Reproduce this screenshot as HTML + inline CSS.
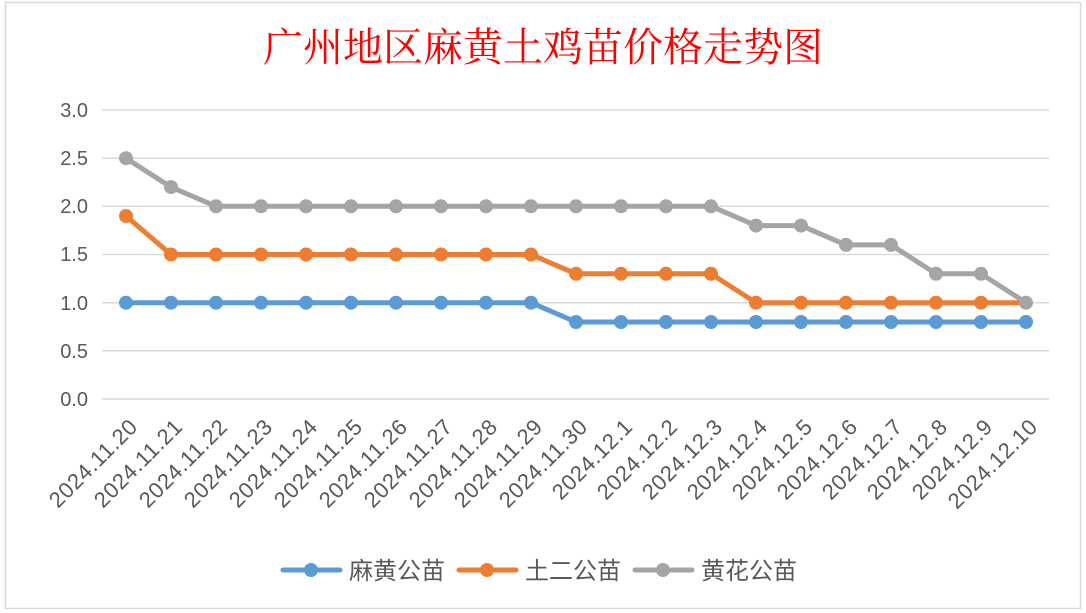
<!DOCTYPE html>
<html><head><meta charset="utf-8"><style>
body{margin:0;background:#fff;}
svg{display:block;}
</style></head><body>
<svg width="1086" height="613" xmlns="http://www.w3.org/2000/svg">
<rect x="0" y="0" width="1086" height="613" fill="#fff"/>
<rect x="5.5" y="2.5" width="1075" height="606" fill="#fff" stroke="#d9d9d9" stroke-width="1.5"/>
<text x="543" y="61" text-anchor="middle" font-family="'Liberation Serif','Noto Serif CJK SC',serif" font-size="40" fill="#ff0000">广州地区麻黄土鸡苗价格走势图</text>
<g stroke="#d9d9d9" stroke-width="1.5">
<line x1="102" x2="1049" y1="110" y2="110"/>
<line x1="102" x2="1049" y1="158.2" y2="158.2"/>
<line x1="102" x2="1049" y1="206.3" y2="206.3"/>
<line x1="102" x2="1049" y1="254.5" y2="254.5"/>
<line x1="102" x2="1049" y1="302.7" y2="302.7"/>
<line x1="102" x2="1049" y1="350.8" y2="350.8"/>
<line x1="102" x2="1049" y1="399" y2="399"/>
</g>
<g font-family="'Liberation Sans',sans-serif" font-size="20" fill="#595959" text-anchor="end">
<text x="88" y="117">3.0</text>
<text x="88" y="165">2.5</text>
<text x="88" y="213">2.0</text>
<text x="88" y="261">1.5</text>
<text x="88" y="310">1.0</text>
<text x="88" y="358">0.5</text>
<text x="88" y="406">0.0</text>
</g>
<g font-family="'Liberation Sans',sans-serif" font-size="22" letter-spacing="0.6" fill="#595959" text-anchor="end">
<text transform="translate(139,428) rotate(-45)">2024.11.20</text>
<text transform="translate(184,428) rotate(-45)">2024.11.21</text>
<text transform="translate(229,428) rotate(-45)">2024.11.22</text>
<text transform="translate(274,428) rotate(-45)">2024.11.23</text>
<text transform="translate(319,428) rotate(-45)">2024.11.24</text>
<text transform="translate(364,428) rotate(-45)">2024.11.25</text>
<text transform="translate(409,428) rotate(-45)">2024.11.26</text>
<text transform="translate(454,428) rotate(-45)">2024.11.27</text>
<text transform="translate(499,428) rotate(-45)">2024.11.28</text>
<text transform="translate(544,428) rotate(-45)">2024.11.29</text>
<text transform="translate(589,428) rotate(-45)">2024.11.30</text>
<text transform="translate(634,428) rotate(-45)">2024.12.1</text>
<text transform="translate(679,428) rotate(-45)">2024.12.2</text>
<text transform="translate(724,428) rotate(-45)">2024.12.3</text>
<text transform="translate(769,428) rotate(-45)">2024.12.4</text>
<text transform="translate(814,428) rotate(-45)">2024.12.5</text>
<text transform="translate(859,428) rotate(-45)">2024.12.6</text>
<text transform="translate(904,428) rotate(-45)">2024.12.7</text>
<text transform="translate(949,428) rotate(-45)">2024.12.8</text>
<text transform="translate(994,428) rotate(-45)">2024.12.9</text>
<text transform="translate(1039,428) rotate(-45)">2024.12.10</text>
</g>
<g fill="none" stroke-width="5" stroke-linejoin="round" stroke-linecap="round">
<polyline stroke="#a5a5a5" points="126,158.2 171,187.1 216,206.3 261,206.3 306,206.3 351,206.3 396,206.3 441,206.3 486,206.3 531,206.3 576,206.3 621,206.3 666,206.3 711,206.3 756,225.6 801,225.6 846,244.9 891,244.9 936,273.8 981,273.8 1026,302.7"/>
<polyline stroke="#ed7d31" points="126,216 171,254.5 216,254.5 261,254.5 306,254.5 351,254.5 396,254.5 441,254.5 486,254.5 531,254.5 576,273.8 621,273.8 666,273.8 711,273.8 756,302.7 801,302.7 846,302.7 891,302.7 936,302.7 981,302.7 1026,302.7"/>
<polyline stroke="#5b9bd5" points="126,302.7 171,302.7 216,302.7 261,302.7 306,302.7 351,302.7 396,302.7 441,302.7 486,302.7 531,302.7 576,322 621,322 666,322 711,322 756,322 801,322 846,322 891,322 936,322 981,322 1026,322"/>
</g>
<g fill="#a5a5a5">
<circle cx="126" cy="158.2" r="7"/><circle cx="171" cy="187.1" r="7"/><circle cx="216" cy="206.3" r="7"/><circle cx="261" cy="206.3" r="7"/><circle cx="306" cy="206.3" r="7"/><circle cx="351" cy="206.3" r="7"/><circle cx="396" cy="206.3" r="7"/><circle cx="441" cy="206.3" r="7"/><circle cx="486" cy="206.3" r="7"/><circle cx="531" cy="206.3" r="7"/><circle cx="576" cy="206.3" r="7"/><circle cx="621" cy="206.3" r="7"/><circle cx="666" cy="206.3" r="7"/><circle cx="711" cy="206.3" r="7"/><circle cx="756" cy="225.6" r="7"/><circle cx="801" cy="225.6" r="7"/><circle cx="846" cy="244.9" r="7"/><circle cx="891" cy="244.9" r="7"/><circle cx="936" cy="273.8" r="7"/><circle cx="981" cy="273.8" r="7"/>
</g>
<g fill="#ed7d31">
<circle cx="126" cy="216" r="7"/><circle cx="171" cy="254.5" r="7"/><circle cx="216" cy="254.5" r="7"/><circle cx="261" cy="254.5" r="7"/><circle cx="306" cy="254.5" r="7"/><circle cx="351" cy="254.5" r="7"/><circle cx="396" cy="254.5" r="7"/><circle cx="441" cy="254.5" r="7"/><circle cx="486" cy="254.5" r="7"/><circle cx="531" cy="254.5" r="7"/><circle cx="576" cy="273.8" r="7"/><circle cx="621" cy="273.8" r="7"/><circle cx="666" cy="273.8" r="7"/><circle cx="711" cy="273.8" r="7"/><circle cx="756" cy="302.7" r="7"/><circle cx="801" cy="302.7" r="7"/><circle cx="846" cy="302.7" r="7"/><circle cx="891" cy="302.7" r="7"/><circle cx="936" cy="302.7" r="7"/><circle cx="981" cy="302.7" r="7"/>
</g>
<circle cx="1026" cy="302.7" r="7" fill="#a5a5a5"/>
<g fill="#5b9bd5">
<circle cx="126" cy="302.7" r="7"/><circle cx="171" cy="302.7" r="7"/><circle cx="216" cy="302.7" r="7"/><circle cx="261" cy="302.7" r="7"/><circle cx="306" cy="302.7" r="7"/><circle cx="351" cy="302.7" r="7"/><circle cx="396" cy="302.7" r="7"/><circle cx="441" cy="302.7" r="7"/><circle cx="486" cy="302.7" r="7"/><circle cx="531" cy="302.7" r="7"/><circle cx="576" cy="322" r="7"/><circle cx="621" cy="322" r="7"/><circle cx="666" cy="322" r="7"/><circle cx="711" cy="322" r="7"/><circle cx="756" cy="322" r="7"/><circle cx="801" cy="322" r="7"/><circle cx="846" cy="322" r="7"/><circle cx="891" cy="322" r="7"/><circle cx="936" cy="322" r="7"/><circle cx="981" cy="322" r="7"/><circle cx="1026" cy="322" r="7"/>
</g>
<g stroke-width="5" stroke-linecap="round">
<line x1="283" x2="340" y1="570" y2="570" stroke="#5b9bd5"/>
<line x1="459" x2="516" y1="570" y2="570" stroke="#ed7d31"/>
<line x1="635" x2="692" y1="570" y2="570" stroke="#a5a5a5"/>
</g>
<circle cx="311" cy="570" r="7" fill="#5b9bd5"/>
<circle cx="487" cy="570" r="7" fill="#ed7d31"/>
<circle cx="663" cy="570" r="7" fill="#a5a5a5"/>
<g font-family="'Liberation Sans','Noto Sans CJK SC',sans-serif" font-size="24" fill="#595959">
<text x="349" y="579">麻黄公苗</text>
<text x="525" y="579">土二公苗</text>
<text x="701" y="579">黄花公苗</text>
</g>
</svg>
</body></html>
